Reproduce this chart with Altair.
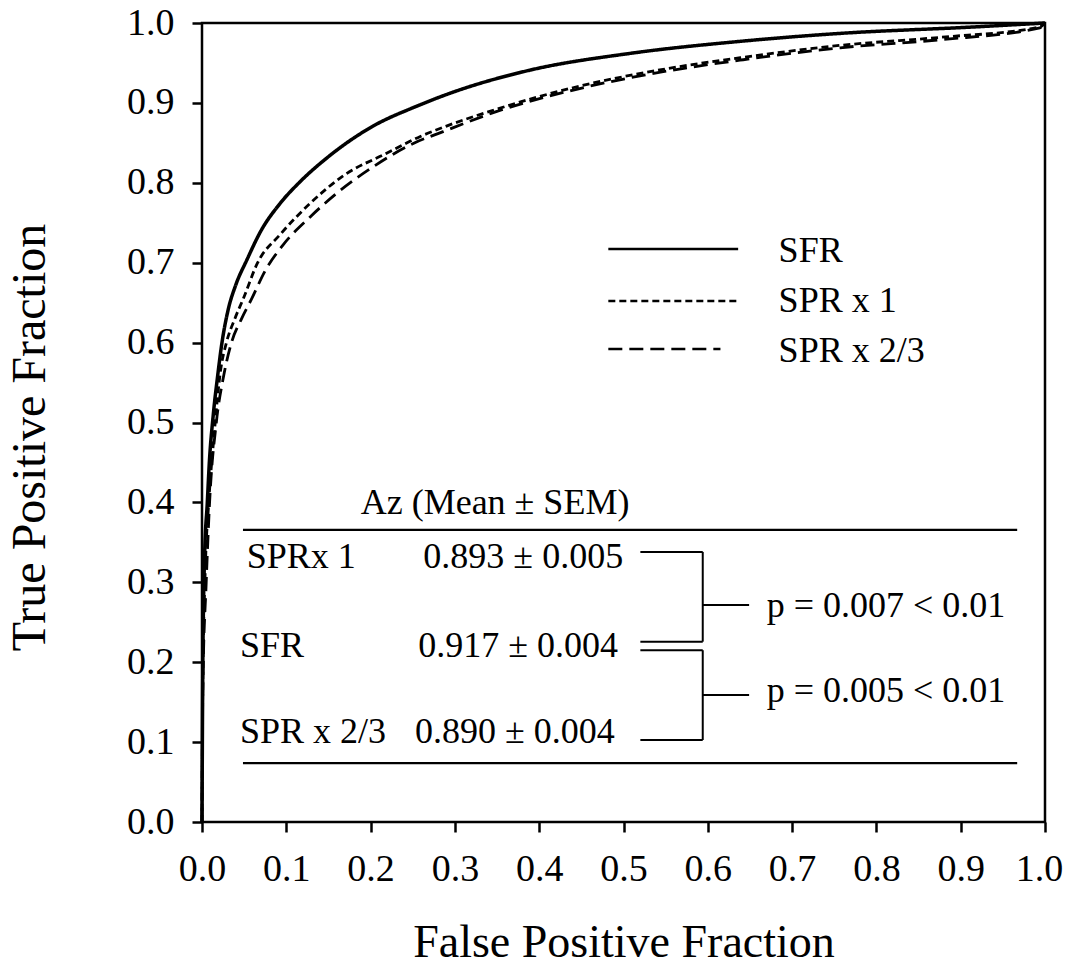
import altair as alt
import pandas as pd

# ---- ROC curves ----
fpf_sfr = [0, 0.001, 0.003, 0.0063, 0.0087, 0.0134, 0.019, 0.023, 0.031, 0.040, 0.053, 0.070, 0.0925,
           0.116, 0.148, 0.203, 0.255, 0.294, 0.389, 0.508, 0.638, 0.757, 0.915, 1.0]
tpf_sfr = [0, 0.20, 0.33, 0.40, 0.450, 0.510, 0.562, 0.595, 0.641, 0.672, 0.703, 0.740, 0.774,
           0.801, 0.831, 0.871, 0.896, 0.912, 0.941, 0.962, 0.977, 0.987, 0.995, 1.0]

fpf_spr1 = [0, 0.001, 0.004, 0.008, 0.014, 0.022, 0.029, 0.039, 0.049, 0.066, 0.0925, 0.128, 0.168,
            0.219, 0.259, 0.290, 0.349, 0.448, 0.547, 0.642, 0.757, 0.875, 0.994, 1.0]
tpf_spr1 = [0, 0.18, 0.32, 0.40, 0.48, 0.565, 0.600, 0.630, 0.655, 0.700, 0.735, 0.774, 0.809,
            0.837, 0.858, 0.871, 0.892, 0.921, 0.942, 0.957, 0.972, 0.982, 0.995, 1.0]

fpf_spr23 = [0, 0.001, 0.005, 0.009, 0.017, 0.026, 0.035, 0.047, 0.059, 0.075, 0.096, 0.128, 0.160,
             0.203, 0.250, 0.286, 0.349, 0.448, 0.547, 0.642, 0.757, 0.875, 0.994, 1.0]
tpf_spr23 = [0, 0.17, 0.30, 0.40, 0.50, 0.560, 0.600, 0.630, 0.655, 0.690, 0.722, 0.757, 0.787,
             0.820, 0.849, 0.864, 0.889, 0.918, 0.939, 0.954, 0.969, 0.979, 0.994, 1.0]

# ---- legend ----
legend_names = ["SFR", "SPR x 1", "SPR x 2/3"]
legend_line_x1 = [0.482, 0.482, 0.482]
legend_line_x2 = [0.636, 0.638, 0.615]
legend_line_y = [0.717, 0.652, 0.592]
legend_text_x = 0.684
legend_text_y = [0.7005, 0.6380, 0.576]

# ---- Az table ----
table_title = "Az (Mean \u00b1 SEM)"
table_title_x = 0.3476
table_title_y = 0.386
row_labels = ["SPRx 1", "SFR", "SPR x 2/3"]
row_label_x = [0.053, 0.045, 0.045]
row_y = [0.3175, 0.207, 0.0985]
row_values = ["0.893 \u00b1 0.005", "0.917 \u00b1 0.004", "0.890 \u00b1 0.004"]
row_value_x = [0.2626, 0.2566, 0.2527]
table_lines_y = [0.3655, 0.0738]
table_lines_x = [0.0486, 0.967]

# brackets (x, x2, y, y2)
br_x = [0.520, 0.594, 0.520, 0.594, 0.520, 0.594, 0.520, 0.594]
br_x2 = [0.594, 0.594, 0.594, 0.649, 0.594, 0.594, 0.594, 0.649]
br_y = [0.338, 0.338, 0.2257, 0.2716, 0.215, 0.215, 0.1026, 0.159]
br_y2 = [0.338, 0.2257, 0.2257, 0.2716, 0.215, 0.1026, 0.1026, 0.159]

p_texts = ["p = 0.007 < 0.01", "p = 0.005 < 0.01"]
p_x = [0.6698, 0.6698]
p_y = [0.257, 0.1506]

ticks = [round(i * 0.1, 1) for i in range(11)]

FONT = "Liberation Serif, Times New Roman, DejaVu Serif, serif"

xs = alt.Scale(domain=[0, 1], nice=False, zero=False)
ys = alt.Scale(domain=[0, 1], nice=False, zero=False)

xax = alt.Axis(values=ticks, format=".1f", title="False Positive Fraction", grid=False,
               tickSize=10, tickWidth=2.5, tickColor="black", domain=False,
               labelFlush=False, labelOverlap=False,
               labelOffset=alt.condition("datum.value >= 1", alt.value(-6), alt.value(0)),
               labelFont=FONT, labelFontSize=38, labelColor="black", labelPadding=18,
               titleFont=FONT, titleFontSize=46, titleFontWeight="normal", titleColor="black",
               titleBaseline="alphabetic", titleY=134)
yax = alt.Axis(values=ticks, format=".1f", title="True Positive Fraction", grid=False,
               tickSize=10, tickWidth=2.5, tickColor="black", domain=False,
               labelFlush=False, labelOverlap=False,
               labelFont=FONT, labelFontSize=38, labelColor="black", labelPadding=18,
               titleFont=FONT, titleFontSize=48, titleFontWeight="normal", titleColor="black",
               titleAngle=270, titleBaseline="alphabetic", titleAlign="center",
               titleX=-158, titleY=414)


def curve(fx, fy, dash, width):
    df = pd.DataFrame({"fpf": fx, "tpf": fy, "i": list(range(len(fx)))})
    return alt.Chart(df).mark_line(color="black", strokeWidth=width, strokeDash=dash,
                                   interpolate="monotone").encode(
        x=alt.X("fpf:Q", scale=xs, axis=xax),
        y=alt.Y("tpf:Q", scale=ys, axis=yax),
        order="i:Q",
    )


c_sfr = curve(fpf_sfr, tpf_sfr, [1, 0], 3.5)
c_spr1 = curve(fpf_spr1, tpf_spr1, [7, 4], 2.8)
c_spr23 = curve(fpf_spr23, tpf_spr23, [14, 7], 2.8)

dash_styles = [[1, 0], [7, 4], [14, 7]]
leg_layers = []
for k in range(3):
    ldf = pd.DataFrame({"x": [legend_line_x1[k]], "x2": [legend_line_x2[k]], "y": [legend_line_y[k]]})
    leg_layers.append(alt.Chart(ldf).mark_rule(color="black", strokeWidth=2.5,
                                               strokeDash=dash_styles[k]).encode(
        x=alt.X("x:Q", scale=xs), x2="x2:Q", y=alt.Y("y:Q", scale=ys)))
legend_text_df = pd.DataFrame({"x": [legend_text_x] * 3, "y": legend_text_y, "t": legend_names})
leg_text = alt.Chart(legend_text_df).mark_text(font=FONT, fontSize=36, align="left",
                                               baseline="alphabetic", color="black").encode(
    x=alt.X("x:Q", scale=xs), y=alt.Y("y:Q", scale=ys), text="t:N")

tl_df = pd.DataFrame({"x": [table_lines_x[0]] * 2, "x2": [table_lines_x[1]] * 2, "y": table_lines_y})
table_lines = alt.Chart(tl_df).mark_rule(color="black", strokeWidth=2.2).encode(
    x=alt.X("x:Q", scale=xs), x2="x2:Q", y=alt.Y("y:Q", scale=ys))

br_df = pd.DataFrame({"x": br_x, "x2": br_x2, "y": br_y, "y2": br_y2})
brackets = alt.Chart(br_df).mark_rule(color="black", strokeWidth=2).encode(
    x=alt.X("x:Q", scale=xs), x2="x2:Q", y=alt.Y("y:Q", scale=ys), y2="y2:Q")

tt_df = pd.DataFrame({"x": [table_title_x], "y": [table_title_y], "t": [table_title]})
table_title_mark = alt.Chart(tt_df).mark_text(font=FONT, fontSize=36, align="center",
                                              baseline="alphabetic", color="black").encode(
    x=alt.X("x:Q", scale=xs), y=alt.Y("y:Q", scale=ys), text="t:N")

rl_df = pd.DataFrame({"x": row_label_x, "y": row_y, "t": row_labels})
row_label_mark = alt.Chart(rl_df).mark_text(font=FONT, fontSize=36, align="left",
                                            baseline="alphabetic", color="black").encode(
    x=alt.X("x:Q", scale=xs), y=alt.Y("y:Q", scale=ys), text="t:N")

rv_df = pd.DataFrame({"x": row_value_x, "y": row_y, "t": row_values})
row_value_mark = alt.Chart(rv_df).mark_text(font=FONT, fontSize=36, align="left",
                                            baseline="alphabetic", color="black").encode(
    x=alt.X("x:Q", scale=xs), y=alt.Y("y:Q", scale=ys), text="t:N")

p_df = pd.DataFrame({"x": p_x, "y": p_y, "t": p_texts})
p_mark = alt.Chart(p_df).mark_text(font=FONT, fontSize=36, align="left",
                                   baseline="alphabetic", color="black").encode(
    x=alt.X("x:Q", scale=xs), y=alt.Y("y:Q", scale=ys), text="t:N")

chart = alt.layer(
    c_sfr, c_spr1, c_spr23, *leg_layers, leg_text, table_lines, brackets,
    table_title_mark, row_label_mark, row_value_mark, p_mark
).properties(
    width=843, height=799,
    autosize=alt.AutoSizeParams(type="none"),
    padding={"left": 194, "top": 15, "right": 18, "bottom": 144},
    background="white",
).configure_view(
    stroke="black", strokeWidth=2.5
)

chart.save("out.html", embed_options={"renderer": "svg", "actions": False})
